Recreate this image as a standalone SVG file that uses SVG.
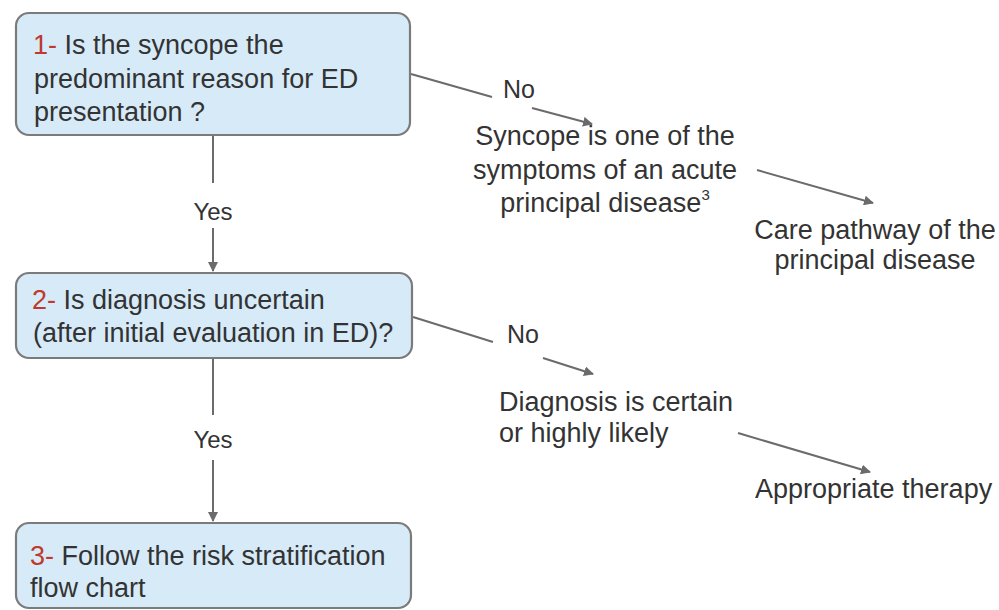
<svg xmlns="http://www.w3.org/2000/svg" width="999" height="610" viewBox="0 0 999 610">
<style>
.box{fill:#d6eaf8;stroke:#7b7b7b;stroke-width:2.2}
.t{font-family:"Liberation Sans",Arial,sans-serif;font-size:27px;fill:#333}
.n{fill:#c0392b}
.lbl{font-family:"Liberation Sans",Arial,sans-serif;font-size:25px;fill:#333}
.c{stroke:#6b6b6b;stroke-width:2;fill:none}
</style>
<defs>
<marker id="ah" viewBox="0 0 10 10" refX="9" refY="5" markerWidth="5" markerHeight="5" orient="auto" markerUnits="strokeWidth">
<path d="M0,0 L10,5 L0,10 z" fill="#6b6b6b"/>
</marker>
</defs>
<rect width="999" height="610" fill="#ffffff"/>
<g id="connectors">
<line class="c" x1="213" y1="136" x2="213" y2="183"/>
<line class="c" x1="213" y1="228" x2="213" y2="271" marker-end="url(#ah)"/>
<line class="c" x1="213" y1="359" x2="213" y2="415"/>
<line class="c" x1="213" y1="460" x2="213" y2="521" marker-end="url(#ah)"/>
<line class="c" x1="411" y1="74" x2="492" y2="97"/>
<line class="c" x1="532" y1="108" x2="592" y2="124" marker-end="url(#ah)"/>
<line class="c" x1="757" y1="170" x2="873" y2="203" marker-end="url(#ah)"/>
<line class="c" x1="413" y1="317" x2="493" y2="342"/>
<line class="c" x1="543" y1="358" x2="593" y2="374" marker-end="url(#ah)"/>
<line class="c" x1="738" y1="433" x2="870" y2="472" marker-end="url(#ah)"/>
<text class="lbl" x="213" y="220" text-anchor="middle" style="font-size:24px">Yes</text>
<text class="lbl" x="213" y="448" text-anchor="middle" style="font-size:24px">Yes</text>
<text class="lbl" x="503" y="98">No</text>
<text class="lbl" x="507" y="343">No</text>
</g>
<g id="node1">
<rect class="box" x="16" y="13" width="394" height="122" rx="13"/>
<text class="t" x="33" y="54"><tspan class="n">1-</tspan> Is the syncope the</text>
<text class="t" x="34" y="88">predominant reason for ED</text>
<text class="t" x="34" y="121">presentation ?</text>
</g>
<g id="node2">
<rect class="box" x="16" y="273" width="396" height="85" rx="13"/>
<text class="t" x="32" y="309"><tspan class="n">2-</tspan> Is diagnosis uncertain</text>
<text class="t" x="33" y="342">(after initial evaluation in ED)?</text>
</g>
<g id="node3">
<rect class="box" x="16" y="523" width="395" height="85" rx="13"/>
<text class="t" x="30" y="565"><tspan class="n">3-</tspan> Follow the risk stratification</text>
<text class="t" x="30" y="597">flow chart</text>
</g>
<g id="node4">
<text class="t" x="605" y="145" text-anchor="middle">Syncope is one of the</text>
<text class="t" x="605" y="179" text-anchor="middle">symptoms of an acute</text>
<text class="t" x="605" y="212" text-anchor="middle">principal disease<tspan dy="-12" style="font-size:15px">3</tspan></text>
</g>
<g id="node5">
<text class="t" x="875" y="239" text-anchor="middle">Care pathway of the</text>
<text class="t" x="875" y="269" text-anchor="middle">principal disease</text>
</g>
<g id="node6">
<text class="t" x="499" y="411">Diagnosis is certain</text>
<text class="t" x="499" y="442">or highly likely</text>
</g>
<g id="node7">
<text class="t" x="755" y="498">Appropriate therapy</text>
</g>
</svg>
